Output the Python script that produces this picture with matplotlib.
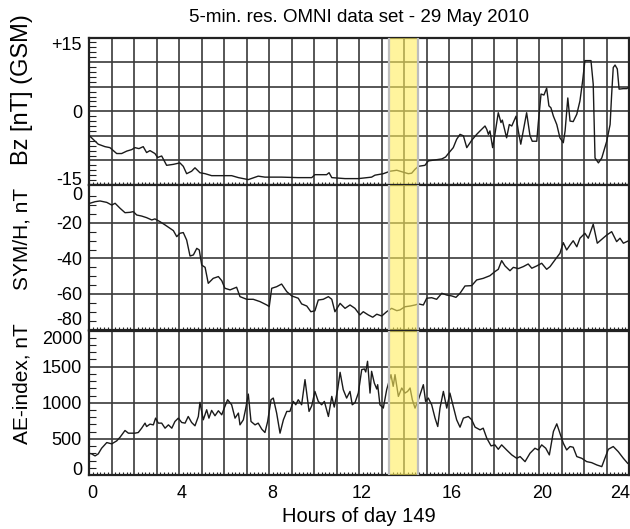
import numpy as np
import matplotlib
matplotlib.use("Agg")
import matplotlib.pyplot as plt
import matplotlib.transforms as mtransforms
from matplotlib.ticker import MultipleLocator, FixedLocator, FixedFormatter

plt.rcParams['font.family'] = ['Liberation Sans', 'DejaVu Sans']

# ---------------- data ----------------
bz_hours = [0.0, 0.41, 0.71, 0.93, 1.23, 1.45, 1.68, 1.9, 2.04, 2.22, 2.41, 2.56, 2.71, 2.93,
            3.05, 3.23, 3.45, 3.75, 4.04, 4.19, 4.34, 4.56, 4.71, 4.93, 5.16, 5.45, 5.9, 6.34,
            6.64, 7.08, 7.52, 7.82, 8.1, 8.56, 9.29, 9.9, 10.04, 10.56, 10.67, 10.79, 11.38,
            11.97, 12.56, 12.71, 13.08, 13.38, 13.68, 13.9, 14.19, 14.34, 14.49, 14.64, 14.93,
            15.08, 15.38, 15.68, 15.85, 15.97, 16.19, 16.34, 16.49, 16.64, 16.79, 17.01, 17.23,
            17.38, 17.6, 17.68, 17.75, 17.82, 17.94, 18.04, 18.19, 18.31, 18.37, 18.56, 18.68,
            18.79, 18.98, 19.08, 19.19, 19.3, 19.45, 19.6, 19.7, 19.9, 19.97, 20.09, 20.22,
            20.34, 20.44, 20.53, 20.64, 20.79, 20.93, 21.08, 21.16, 21.28, 21.38, 21.52, 21.68,
            21.82, 21.94, 22.04, 22.31, 22.41, 22.49, 22.64, 22.79, 23.01, 23.16, 23.23, 23.3,
            23.38, 23.48, 23.56, 23.75, 23.9, 23.97]
bz_values = [-4.9, -6.7, -7.2, -7.4, -8.6, -8.6, -8.1, -7.8, -7.4, -7.6, -7.2, -8.4, -8.0, -8.6,
             -9.4, -9.1, -11.0, -10.8, -10.5, -11.2, -12.7, -12.2, -11.5, -12.5, -12.7, -13.1,
             -13.1, -13.1, -13.5, -13.9, -13.2, -13.4, -13.4, -13.4, -13.5, -13.5, -12.9, -12.9,
             -12.5, -13.5, -13.7, -13.7, -13.4, -13.0, -12.7, -12.2, -12.0, -12.3, -12.7, -12.6,
             -11.8, -11.2, -11.0, -10.1, -9.9, -9.7, -9.3, -8.6, -7.4, -5.7, -4.7, -5.0, -7.4,
             -5.9, -4.7, -4.0, -3.0, -3.7, -4.7, -4.0, -7.4, -4.7, -0.3, -2.3, -1.8, -5.4, -2.7,
             -3.0, -1.0, -4.0, -6.7, -4.0, -0.3, -5.0, -6.1, -6.1, -2.3, 3.5, 3.3, 4.7, 1.1, 0.7,
             -1.0, -2.7, -5.4, -6.4, -4.0, 2.7, -2.0, -2.1, -0.6, 2.1, 6.2, 10.3, 10.3, 5.5,
             -9.5, -10.5, -9.5, -6.1, -2.7, 3.5, 8.9, 9.4, 8.6, 4.5, 4.6, 4.6, 4.8]

sym_hours = [0.04, 0.27, 0.49, 0.79, 1.01, 1.16, 1.38, 1.6, 1.82, 1.97, 2.12, 2.34, 2.56, 2.79,
             2.93, 3.16, 3.38, 3.6, 3.75, 3.9, 4.04, 4.19, 4.34, 4.49, 4.64, 4.79, 4.9, 5.01,
             5.16, 5.3, 5.52, 5.75, 5.9, 6.04, 6.27, 6.56, 6.71, 7.01, 7.3, 7.6, 7.9, 8.01,
             8.12, 8.34, 8.56, 8.79, 9.01, 9.3, 9.45, 9.68, 9.86, 10.04, 10.19, 10.41, 10.64,
             10.79, 10.93, 11.16, 11.38, 11.6, 11.82, 12.04, 12.19, 12.41, 12.61, 12.79, 13.01,
             13.23, 13.45, 13.68, 13.82, 14.04, 14.27, 14.49, 14.64, 14.86, 15.01, 15.23, 15.45,
             15.68, 15.9, 16.12, 16.31, 16.49, 16.71, 17.01, 17.23, 17.52, 17.82, 18.04, 18.19,
             18.34, 18.49, 18.71, 18.86, 19.08, 19.3, 19.52, 19.68, 19.9, 20.12, 20.34, 20.49,
             20.71, 20.93, 21.08, 21.23, 21.38, 21.52, 21.68, 21.82, 22.04, 22.19, 22.41, 22.59,
             22.79, 23.01, 23.23, 23.45, 23.6, 23.75, 23.97]
sym_values = [-8.9, -8.0, -7.6, -8.4, -9.9, -8.9, -11.7, -14.2, -14.0, -13.6, -15.5, -16.1, -17.0,
              -18.3, -17.7, -19.3, -21.1, -23.0, -24.3, -27.7, -25.8, -25.4, -29.6, -38.6, -38.0,
              -34.3, -35.2, -43.7, -45.0, -54.0, -51.2, -50.2, -52.5, -56.8, -57.7, -56.2, -61.5,
              -63.0, -63.0, -64.3, -66.2, -67.1, -56.8, -55.9, -54.4, -58.7, -61.1, -62.4, -65.6,
              -66.8, -70.0, -69.5, -63.4, -63.0, -61.5, -63.0, -70.0, -65.3, -68.1, -66.2, -68.1,
              -71.8, -70.0, -71.8, -73.1, -71.4, -72.4, -70.0, -68.1, -69.4, -69.0, -67.2, -66.8,
              -66.2, -65.6, -66.2, -62.4, -62.1, -63.0, -59.6, -60.6, -61.1, -61.9, -59.6, -55.5,
              -55.3, -52.1, -51.2, -49.7, -47.4, -46.1, -41.2, -44.2, -46.9, -45.0, -45.7, -44.6,
              -43.1, -45.5, -44.2, -42.7, -46.1, -44.6, -40.8, -37.1, -31.1, -35.2, -32.4, -30.0,
              -33.4, -28.6, -25.8, -28.6, -20.7, -31.4, -29.2, -26.8, -24.9, -30.5, -28.6, -31.4,
              -30.1]

ae_hours = [0.0, 0.12, 0.27, 0.41, 0.56, 0.79, 1.01, 1.23, 1.38, 1.6, 1.75, 2.04, 2.19, 2.34,
            2.49, 2.56, 2.71, 2.86, 2.96, 3.08, 3.23, 3.38, 3.53, 3.68, 3.82, 3.97, 4.12, 4.27,
            4.41, 4.56, 4.71, 4.86, 4.93, 5.08, 5.23, 5.33, 5.45, 5.6, 5.75, 5.9, 6.01, 6.16,
            6.34, 6.49, 6.64, 6.71, 6.86, 6.96, 7.08, 7.2, 7.38, 7.52, 7.68, 7.82, 7.94, 8.09,
            8.19, 8.34, 8.49, 8.64, 8.79, 8.93, 9.08, 9.19, 9.3, 9.45, 9.6, 9.78, 9.9, 10.04,
            10.19, 10.34, 10.46, 10.64, 10.79, 10.9, 11.05, 11.16, 11.3, 11.45, 11.6, 11.7,
            11.82, 11.97, 12.12, 12.24, 12.3, 12.38, 12.49, 12.56, 12.68, 12.79, 12.83, 12.93,
            13.08, 13.23, 13.42, 13.52, 13.6, 13.75, 13.9, 14.04, 14.16, 14.27, 14.37, 14.49,
            14.64, 14.76, 14.86, 14.96, 15.08, 15.23, 15.38, 15.5, 15.6, 15.75, 15.9, 16.04,
            16.19, 16.34, 16.49, 16.64, 16.86, 17.01, 17.16, 17.38, 17.52, 17.68, 17.87, 18.04,
            18.19, 18.34, 18.56, 18.79, 19.01, 19.16, 19.38, 19.6, 19.82, 19.97, 20.12, 20.3,
            20.46, 20.64, 20.79, 20.93, 21.08, 21.23, 21.38, 21.52, 21.68, 21.9, 22.12, 22.34,
            22.57, 22.79, 22.93, 23.08, 23.3, 23.52, 23.75, 23.94]
ae_values = [301, 292, 264, 292, 370, 449, 431, 472, 523, 616, 579, 579, 588, 648, 718, 671, 704,
             694, 787, 718, 718, 648, 694, 648, 741, 787, 727, 718, 810, 727, 681, 810, 1005,
             764, 903, 787, 894, 820, 889, 833, 926, 1042, 972, 787, 857, 694, 764, 912, 1120,
             741, 694, 718, 634, 588, 741, 1042, 1065, 857, 579, 764, 880, 880, 1019, 972, 1042,
             972, 1320, 880, 958, 1157, 1019, 972, 1019, 810, 1088, 940, 1181, 1421, 1181, 1065,
             1157, 972, 1000, 1134, 1458, 1468, 1426, 1574, 1134, 1435, 1273, 1190, 1250, 972,
             926, 1181, 1389, 1227, 1389, 1088, 1204, 1134, 1157, 1204, 1042, 926, 1042, 1157,
             1250, 1019, 1065, 972, 787, 671, 926, 1157, 926, 1134, 949, 764, 662, 787, 810,
             764, 662, 625, 648, 509, 403, 417, 356, 417, 347, 278, 231, 255, 185, 301, 370,
             347, 417, 370, 278, 602, 708, 579, 440, 347, 394, 384, 255, 231, 185, 171, 139,
             116, 231, 356, 394, 324, 231, 162]

span_start, span_end = 13.33, 14.63

x_major = list(range(0, 25))
x_labels = [str(h) if h % 4 == 0 else '' for h in x_major]

bz_ticks = [-15, -10, -5, 0, 5, 10, 15]
bz_labels = ['-15', '', '', '0', '', '', '+15']
sym_ticks = [-80, -60, -40, -20, 0]
sym_labels = ['-80', '-60', '-40', '-20', '0']
ae_ticks = [0, 500, 1000, 1500, 2000]
ae_labels = ['0', '500', '1000', '1500', '2000']

title = "5-min. res. OMNI data set - 29 May 2010"

# ---------------- figure ----------------
W, H = 630, 529
fig = plt.figure(figsize=(W / 100, H / 100), dpi=100)

left = 89 / W
right = 629 / W


def frac(y0, y1):
    return [left, 1 - y1 / H, right - left, (y1 - y0) / H]


ax1 = fig.add_axes(frac(37.5, 185))
ax2 = fig.add_axes(frac(185, 330))
ax3 = fig.add_axes(frac(330.5, 475))

panels = [
    (ax1, bz_hours, bz_values, (-15, 15), bz_ticks, bz_labels, 1, 'baseline'),
    (ax2, sym_hours, sym_values, (-80.3, 1.4), sym_ticks, sym_labels, 5, 'bottom'),
    (ax3, ae_hours, ae_values, (0, 2000), ae_ticks, ae_labels, 100, 'baseline'),
]

grid_col = '#3a3a3a'
for ax, xs, ys, ylim, yt, yl, yminor, low_va in panels:
    ax.plot(xs, ys, color='#1a1a1a', lw=1.0, zorder=3)
    ax.set_xlim(0, 24)
    ax.set_ylim(*ylim)
    ax.xaxis.set_major_locator(FixedLocator(x_major))
    ax.xaxis.set_minor_locator(MultipleLocator(1 / 6))
    ax.yaxis.set_major_locator(FixedLocator(yt))
    ax.yaxis.set_major_formatter(FixedFormatter(yl))
    ax.yaxis.set_minor_locator(MultipleLocator(yminor))
    ax.grid(True, which='major', color=grid_col, lw=1.2, zorder=1)
    ax.set_axisbelow(True)
    ax.tick_params(axis='both', which='major', length=0, labelsize=13, pad=5)
    ax.tick_params(axis='y', which='minor', direction='in', length=5, width=0.8,
                   left=True, right=False, color='#222')
    ax.tick_params(axis='x', which='minor', direction='in', length=2.2, width=0.8,
                   bottom=True, top=False, color='#222')
    for s in ax.spines.values():
        s.set_linewidth(1.6)
        s.set_color('#222')
    lo, hi = ax.get_ylim()
    for gl, v in zip(ax.get_ygridlines(), yt):
        if abs(v - lo) < 3e-2 * (hi - lo) or abs(v - hi) < 3e-2 * (hi - lo):
            gl.set_visible(False)
    labs = ax.get_yticklabels()
    labs[0].set_va(low_va)
    labs[-1].set_va('top')
    ax.axvspan(span_start, span_end, color='#ffee5c', alpha=0.6, lw=0, zorder=4)
    for xv in (span_start, span_end):
        ax.axvline(xv, color='#bdbdbd', lw=1.6, zorder=4)

for ax in (ax1, ax2):
    ax.set_xticklabels([])
ax3.set_xticklabels(x_labels)
ax3.tick_params(axis='x', which='major', pad=7)
shift = mtransforms.ScaledTranslation(3 / 100, 0, fig.dpi_scale_trans)
xl = ax3.get_xticklabels()
for lab in xl:
    lab.set_transform(lab.get_transform() + shift)
xl[-1].set_ha('right')
xl[-1].set_transform(xl[-1].get_transform() + mtransforms.ScaledTranslation(-2 / 100, 0, fig.dpi_scale_trans))

fig.text(359 / W, 1 - 18 / H, title, ha='center', va='center', fontsize=13.5)
ax3.set_xlabel('Hours of day 149', fontsize=14.5, labelpad=4)

fig.text(22 / W, 1 - 90 / H, 'Bz [nT] (GSM)', rotation=90, ha='center', va='center', fontsize=17)
fig.text(22 / W, 1 - 239 / H, 'SYM/H, nT', rotation=90, ha='center', va='center', fontsize=15)
fig.text(22 / W, 1 - 384 / H, 'AE-index, nT', rotation=90, ha='center', va='center', fontsize=15)

fig.savefig('out.png', dpi=100)
